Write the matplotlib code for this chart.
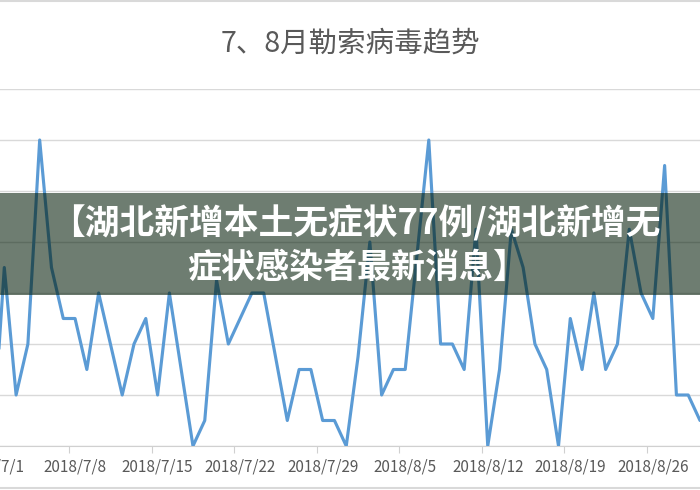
import matplotlib
matplotlib.use('Agg')
import matplotlib.pyplot as plt
from matplotlib.patches import Rectangle
from matplotlib.lines import Line2D
import numpy as np
import pandas as pd

plt.rcParams['font.family'] = ['Noto Sans CJK SC', 'DejaVu Sans']

# daily counts, 2018/7/1 .. 2018/8/31
dates = pd.date_range('2018-07-01', '2018-08-31')
values = [0, 7, 2, 4, 12, 7, 5, 5, 3, 6, 4, 2, 4, 5, 2, 6, 3, 0, 1, 6.5,
          4, 5, 6, 6, 3.5, 1, 3, 3, 1, 1, 0, 3.5, 8, 2, 3, 3, 7.5, 12, 4, 4,
          3, 8.5, 0, 3, 8.5, 7, 4, 3, 0, 5, 3, 6, 3, 4, 8.5, 6, 5, 11, 2, 2,
          1, 2]
date_labels = [f"{d.year}/{d.month}/{d.day}" for d in dates]

title = '7、8月勒索病毒趋势'
banner_lines = ['【湖北新增本土无症状77例/湖北新增无', '症状感染者最新消息】']

W, H = 700, 490
fig = plt.figure(figsize=(W / 100, H / 100), dpi=100)

# plot area: value 0 at y=446px, top gridline at y=89px
ax = fig.add_axes([0, (H - 446) / H, 1, (446 - 89) / H])
x = np.arange(len(values))
ax.plot(x, values, color='#5b9bd5', lw=2.25, solid_joinstyle='round', zorder=3)

ax.set_yticks(np.arange(0, 15, 2))
ax.tick_params(axis='y', left=False, labelleft=False)
ax.grid(axis='y', color='#d9d9d9', lw=1)
for s in ['left', 'right', 'top']:
    ax.spines[s].set_visible(False)
ax.spines['bottom'].set_color('#d0d0d0')

# tick marks between categories, labels on categories every 7 days
lab_pos = x[::7]
ax.set_xticks(lab_pos - 0.5)
ax.set_xticklabels([])
ax.tick_params(axis='x', which='major', length=5, color='#d0d0d0')
ax.set_xticks(lab_pos, minor=True)
ax.set_xticklabels([date_labels[i] for i in lab_pos], minor=True)
ax.tick_params(axis='x', which='minor', length=0, pad=9, labelsize=11,
               labelcolor='#595959')

# the picture is a crop of a wider chart
ax.set_xlim(0.635, 60.0)
ax.set_ylim(0, 14)

# first label sits outside the crop, only its tail shows
ax.annotate(date_labels[0], xy=(0, 0), xycoords=ax.get_xaxis_transform(),
            xytext=(0, -9), textcoords='offset points', ha='center', va='top',
            fontsize=11, color='#595959', annotation_clip=False)

fig.text(0.5, 1 - 44 / H, title, ha='center', va='center', fontsize=20.5,
         color='#595959')

# borders at top and bottom of the chart area
fig.add_artist(Line2D([0, 1], [1 - 1.5 / H, 1 - 1.5 / H], color='#d9d9d9', lw=1.5))
fig.add_artist(Line2D([0, 1], [2 / H, 2 / H], color='#d9d9d9', lw=1.5))

# semi-transparent banner with the headline
fig.add_artist(Rectangle((0, (H - 295) / H), 1, 102 / H, transform=fig.transFigure,
                         facecolor='#001a05', alpha=0.57, edgecolor='none', zorder=5))
fig.text(0.507, 1 - 223 / H, banner_lines[0], ha='center', va='center', fontsize=25,
         color='white', fontweight='heavy', zorder=6)
fig.text(0.51, 1 - 267 / H, banner_lines[1], ha='center', va='center', fontsize=24.5,
         color='white', fontweight='heavy', zorder=6)

fig.savefig('out.png', dpi=100)
